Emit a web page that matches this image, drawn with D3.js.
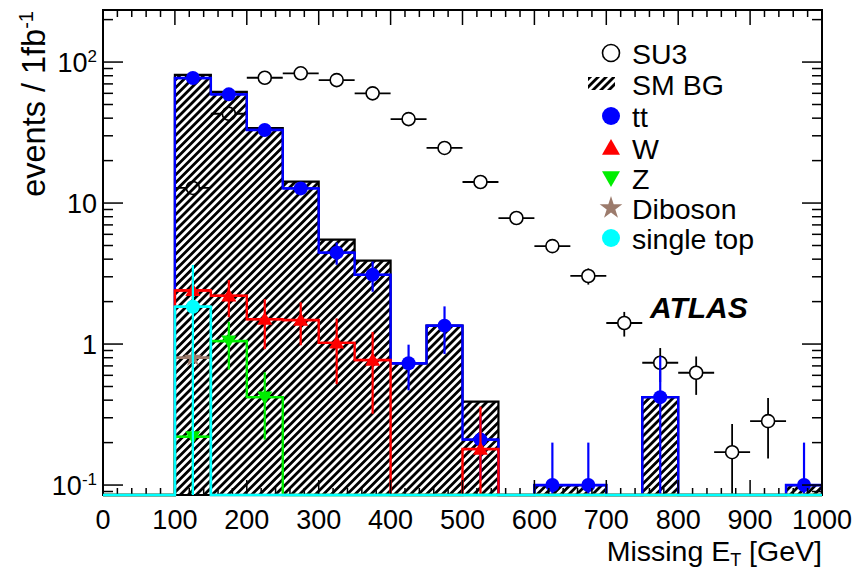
<!DOCTYPE html>
<html><head><meta charset="utf-8">
<script src="https://cdn.jsdelivr.net/npm/d3@7"></script>
<style>
body{margin:0;background:#fff}
text{font-family:"Liberation Sans",Arial,Helvetica,sans-serif;fill:#000}
</style>
</head><body>
<svg id="c" width="853" height="571"></svg>
<script>
// ---------------- data ----------------
const binLow = [0,50,100,150,200,250,300,350,400,450,500,550,600,650,700,750,800,850,900,950];
const binWidth = 50;
const smBG   = [0,0,81,61.5,34,14.2,5.5,3.9,0.73,1.35,0.39,0,0.1,0.1,0,0.42,0,0,0,0.1];
const ttVal  = [0,0,77,59,33,12.7,4.45,3.1,0.73,1.35,0.21,0,0.1,0.1,0,0.42,0,0,0,0.1];
const ttErr  = [0,0,3,2.7,2,1.2,0.8,0.75,0.26,0.5,0.1,0,0.1,0.1,0,0.4,0,0,0,0.1];
const wVal   = [0,0,2.4,2.2,1.5,1.48,1.02,0.77,0,0,0.18,0,0,0,0,0,0,0,0,0];
const wErr   = [0,0,0.6,0.65,0.58,0.5,0.5,0.45,0,0,0.18,0,0,0,0,0,0,0,0,0];
const zVal   = [0,0,0.22,1.05,0.42,0,0,0,0,0,0,0,0,0,0,0,0,0,0,0];
const zErr   = [0,0,0.15,0.39,0.21,0,0,0,0,0,0,0,0,0,0,0,0,0,0,0];
const dibVal = [0,0,0.8,0,0,0,0,0,0,0,0,0,0,0,0,0,0,0,0,0];
const dibErr = [0,0,0.3,0,0,0,0,0,0,0,0,0,0,0,0,0,0,0,0,0];
const stVal  = [0,0,1.84,0,0,0,0,0,0,0,0,0,0,0,0,0,0,0,0,0];
const stErr  = [0,0,1.8,0,0,0,0,0,0,0,0,0,0,0,0,0,0,0,0,0];
const su3Val = [0,0,12.8,43,77.4,83.2,74.5,60,39.4,24.6,14.1,7.83,4.95,3.04,1.41,0.737,0.626,0.171,0.284,0];
const su3Err = [0,0,0.8,1.5,2,2.1,2,1.8,1.5,1.2,0.9,0.65,0.5,0.4,0.28,0.2,0.19,0.1,0.13,0];
const xTicks = [0,100,200,300,400,500,600,700,800,900,1000];
const yTickVals = [0.1,1,10,100];
const yTickLabels = [["10","-1"],["1",""],["10",""],["10","2"]];
const legendLabels = ["SU3","SM BG","tt","W","Z","Diboson","single top"];
const xTitle = ["Missing E","T"," [GeV]"];
const yTitle = ["events / 1fb","-1"];
const atlasLabel = "ATLAS";

// ---------------- layout ----------------
const L = 103, R = 822, T = 10, B = 495;
const svg = d3.select("#c");
const x = d3.scaleLinear().domain([0,1000]).range([L,R]);
const y = d3.scaleLog().domain([0.085,234]).range([B,T]);
const yv = v => v > 0.085 ? y(v) : B;

const defs = svg.append("defs");
const pat = defs.append("pattern").attr("id","hatch").attr("patternUnits","userSpaceOnUse")
  .attr("width",5.6).attr("height",5.6).attr("patternTransform","rotate(45)");
pat.append("rect").attr("x",0).attr("y",0).attr("width",2.8).attr("height",5.6).attr("fill","#000");
defs.append("clipPath").attr("id","clip").append("rect")
  .attr("x",L).attr("y",T).attr("width",R-L).attr("height",B-T+2);

const plot = svg.append("g").attr("clip-path","url(#clip)");

function stepPath(vals){
  let p = [[x(0), B]];
  binLow.forEach((lo,i)=>{ p.push([x(lo), yv(vals[i])]); p.push([x(lo+binWidth), yv(vals[i])]); });
  p.push([x(1000), B]);
  return d3.line()(p);
}
function errorBars(g, vals, errs, color, w){
  binLow.forEach((lo,i)=>{
    if(!(vals[i]>0)) return;
    const cx = x(lo+binWidth/2), cy = y(vals[i]);
    g.append("line").attr("x1",cx).attr("x2",cx).attr("y1",yv(vals[i]+errs[i])).attr("y2",yv(vals[i]-errs[i]))
      .attr("stroke",color).attr("stroke-width",w);
    g.append("line").attr("x1",x(lo)).attr("x2",x(lo+binWidth)).attr("y1",cy).attr("y2",cy)
      .attr("stroke",color).attr("stroke-width",w);
  });
}
function markers(g, vals, type, color, size){
  binLow.forEach((lo,i)=>{
    if(!(vals[i]>0)) return;
    drawMarker(g, x(lo+binWidth/2), y(vals[i]), type, color, size);
  });
}
function drawMarker(g, cx, cy, type, color, size){
  if(type==="open"){
    g.append("circle").attr("cx",cx).attr("cy",cy).attr("r",size).attr("fill","#fff").attr("stroke","#000").attr("stroke-width",1.6);
  } else if(type==="circle"){
    g.append("circle").attr("cx",cx).attr("cy",cy).attr("r",size).attr("fill",color);
  } else if(type==="up" || type==="down"){
    const s = size;
    const pts = type==="up" ? [[0,-s],[s,s*0.75],[-s,s*0.75]] : [[0,s],[s,-s*0.75],[-s,-s*0.75]];
    g.append("path").attr("d", d3.line()(pts)+"Z").attr("transform",`translate(${cx},${cy})`).attr("fill",color);
  } else if(type==="star"){
    g.append("path").attr("d", d3.symbol().type(d3.symbolStar).size(size*size*2.2)()).attr("transform",`translate(${cx},${cy})`).attr("fill",color);
  }
}

// SU3 (behind)
const gSU3 = plot.append("g");
errorBars(gSU3, su3Val, su3Err, "#000", 1.8);
markers(gSU3, su3Val, "open", "#000", 6.5);

// SM BG hatched
plot.append("path").attr("d", stepPath(smBG)).attr("fill","url(#hatch)").attr("stroke","#000").attr("stroke-width",2.2);

const series = [
  {v:ttVal, e:ttErr, c:"#0000ff", t:"circle", s:7},
  {v:wVal, e:wErr, c:"#ff0000", t:"up", s:7.5},
  {v:zVal, e:zErr, c:"#00ee00", t:"down", s:7.5},
  {v:dibVal, e:dibErr, c:"#9c7b6c", t:"star", s:7},
];
series.forEach(sr=>{
  const g = plot.append("g");
  g.append("path").attr("d", stepPath(sr.v)).attr("fill","none").attr("stroke",sr.c).attr("stroke-width",2.4);
  errorBars(g, sr.v, sr.e, sr.c, 2.2);
  markers(g, sr.v, sr.t, sr.c, sr.s);
});

// ---------------- axes / frame ----------------
const ax = svg.append("g");
ax.append("rect").attr("x",L).attr("y",T).attr("width",R-L).attr("height",B-T)
  .attr("fill","none").attr("stroke","#000").attr("stroke-width",2);
d3.range(0,1001,20).forEach(v=>{
  const len = v%100===0?15:7;
  ax.append("line").attr("x1",x(v)).attr("x2",x(v)).attr("y1",B).attr("y2",B-len).attr("stroke","#000").attr("stroke-width",1.5);
  ax.append("line").attr("x1",x(v)).attr("x2",x(v)).attr("y1",T).attr("y2",T+len).attr("stroke","#000").attr("stroke-width",1.5);
});
const yMinor = [[0.09,false]];
[0.1,1,10,100].forEach(d=>{ for(let k=1;k<10;k++){ const v=d*k; if(v<=234) yMinor.push([v,k===1]); } });
yMinor.forEach(([v,major])=>{
  const len = major?20:10;
  ax.append("line").attr("x1",L).attr("x2",L+len).attr("y1",y(v)).attr("y2",y(v)).attr("stroke","#000").attr("stroke-width",1.5);
  ax.append("line").attr("x1",R).attr("x2",R-len).attr("y1",y(v)).attr("y2",y(v)).attr("stroke","#000").attr("stroke-width",1.5);
});
xTicks.forEach(v=>{
  ax.append("text").attr("x",x(v)).attr("y",529).attr("text-anchor","middle").attr("font-size",27).text(v);
});
yTickVals.forEach((v,i)=>{
  const [base,sup] = yTickLabels[i];
  const t = ax.append("text").attr("x",97).attr("y",y(v)+9.5).attr("text-anchor","end").attr("font-size",27);
  t.append("tspan").text(base);
  if(sup) t.append("tspan").attr("dy",-10).attr("font-size",17).text(sup);
});
// titles
const xt = ax.append("text").attr("x",R).attr("y",560.5).attr("text-anchor","end").attr("font-size",28.5);
xt.append("tspan").text(xTitle[0]);
xt.append("tspan").attr("dy",5).attr("font-size",18).text(xTitle[1]);
xt.append("tspan").attr("dy",-5).text(xTitle[2]);
const yt = ax.append("text").attr("transform","translate(45,11) rotate(-90)").attr("text-anchor","end").attr("font-size",32.5);
yt.append("tspan").text(yTitle[0]);
yt.append("tspan").attr("dy",-12).attr("font-size",20).text(yTitle[1]);

// single top drawn on top
const gST = svg.append("g").attr("clip-path","url(#clip)");
gST.append("path").attr("d", stepPath(stVal)).attr("fill","none").attr("stroke","#00ffff").attr("stroke-width",2.6);
errorBars(gST, stVal, stErr, "#00ffff", 2.2);
markers(gST, stVal, "circle", "#00ffff", 7);

// ATLAS label
svg.append("text").attr("x",650).attr("y",318).attr("font-size",30).attr("font-weight","bold").attr("font-style","italic").text(atlasLabel);

// ---------------- legend ----------------
const lg = svg.append("g");
const rowY = [53,84,116,148,178,208,238];
const legTypes = ["open","hatch","circle","up","down","star","circle"];
const legColors = ["#000","#000","#0000ff","#ff0000","#00ee00","#9c7b6c","#00ffff"];
legendLabels.forEach((lab,i)=>{
  const cy = rowY[i], cx = 611;
  if(legTypes[i]==="hatch"){
    lg.append("rect").attr("x",588).attr("y",cy-7).attr("width",27).attr("height",13).attr("fill","url(#hatch)");
  } else {
    drawMarker(lg, cx, cy, legTypes[i], legColors[i], legTypes[i]==="open"?8.5:(legTypes[i]==="star"?8.5:9));
  }
  lg.append("text").attr("x",632).attr("y",cy+10.5).attr("font-size",28.5).text(lab);
});
</script>
</body></html>
